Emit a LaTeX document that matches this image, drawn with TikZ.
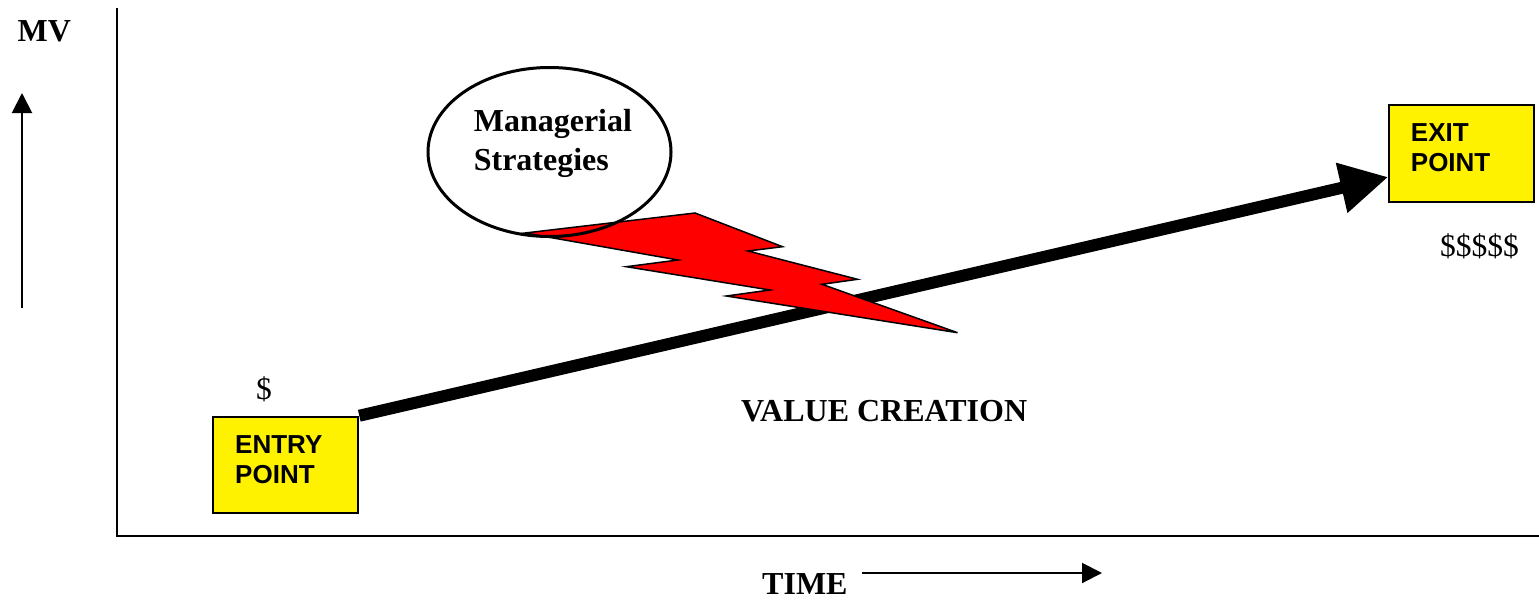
\documentclass[tikz,border=0pt]{standalone}
\usepackage{fontspec}
\setmainfont{Liberation Serif}
\newfontfamily\labelsans{Liberation Sans}
\usetikzlibrary{arrows.meta,shapes.geometric,calc}

\begin{document}
\begin{tikzpicture}[x=1pt,y=-1pt,
  axis/.style={line width=2pt},
  pointer/.style={line width=2pt,-{Triangle[length=20pt,width=20pt]}},
  title/.style={font=\fontsize{32}{38}\selectfont\bfseries, inner sep=0pt, anchor=base west},
  money/.style={font=\fontsize{31.5}{38}\selectfont, inner sep=0pt, anchor=base west},
  boxlabel/.style={font=\labelsans\fontsize{26}{30}\selectfont\bfseries, inner sep=0pt, anchor=base west},
  pointbox/.style={draw=black, line width=2pt, fill=yellow, inner sep=0pt},
  growth/.style={line width=12pt, -{Triangle[length=48pt,width=48pt]}},
  bolt/.style={draw=black, fill=red, line width=1.5pt, line join=miter},
  bubble/.style={ellipse, draw=black, line width=3pt, inner sep=0pt},
]
\useasboundingbox (0,0) rectangle (1539,600);

% axes
\coordinate (ytop) at (117,8);
\coordinate (origin) at (117,536);
\coordinate (xend) at (1539,536);
\draw[axis] (ytop) -- (origin) -- (xend);

% vertical axis caption and its arrow
\node[title] (mv) at (17.5,41.7) {MV};
\coordinate (mvlow) at (22,308);
\coordinate (mvhigh) at (22,93);
\draw[pointer] (mvlow) -- (mvhigh);

% horizontal axis caption and its arrow
\node[title] (time) at (762,594) {TIME};
\coordinate (timestart) at (862,573);
\coordinate (timeend) at (1102,573);
\draw[pointer] (timestart) -- (timeend);

% entry and exit boxes
\node[pointbox, minimum width=145pt, minimum height=96.5pt] (entry) at (285.8,465) {};
\node[boxlabel] (entry1) at (235,453.3) {ENTRY};
\node[boxlabel] (entry2) at (235,483.3) {POINT};
\node[money] (entrycash) at (256,399) {\$};

\node[pointbox, minimum width=144.7pt, minimum height=96.7pt] (exit) at (1461.7,153.3) {};
\node[boxlabel] (exit1) at (1410.7,141.7) {EXIT};
\node[boxlabel] (exit2) at (1410.7,171.7) {POINT};
\node[money] (exitcash) at (1440,256) {\$\$\$\$\$};

% value creation arrow
\coordinate (arrowtip) at ($(exit.south west)!0.26!(exit.north west)$);
\draw[growth] (entry.north east) -- (arrowtip);
\node[title] (vc) at (741,421.5) {VALUE CREATION};

% lightning bolt from the strategies bubble
\draw[bolt] (525,233) -- (695,213) -- (782.5,246.7) -- (748,251) -- (857.5,279.3)
  -- (822,284.3) -- (957.5,332.7) -- (726.4,296) -- (770,290) -- (626.4,266.7)
  -- (678,260) -- cycle;

% strategies bubble
\node[bubble, minimum width=243pt, minimum height=169pt] (ms) at (549.5,152) {};
\node[title] (ms1) at (473.6,131.7) {Managerial};
\node[title] (ms2) at (473.6,170) {Strategies};
\end{tikzpicture}
\end{document}
